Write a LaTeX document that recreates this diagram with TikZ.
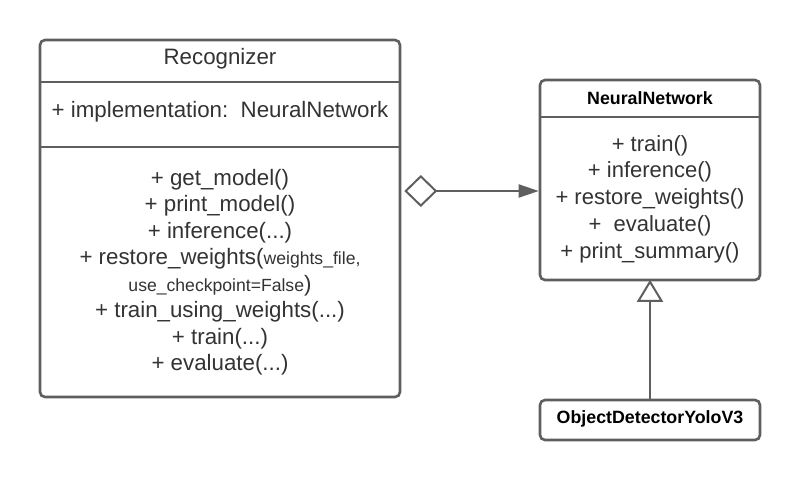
\documentclass[tikz,border=0pt]{standalone}
\usepackage{fontspec}
\setmainfont{Liberation Sans}
\usetikzlibrary{arrows.meta}
\definecolor{linegray}{HTML}{5F5F5F}
\definecolor{textgray}{HTML}{333333}
\begin{document}
\begin{tikzpicture}[x=1pt,y=-1pt,
  umlbox/.style={draw=linegray, line width=2.6pt, rounded corners=5pt, fill=white, inner sep=0pt},
  sepline/.style={draw=linegray, line width=2.6pt},
  conn/.style={draw=linegray, line width=2pt},
  bigtext/.style={text=textgray, font=\fontsize{22.3}{26.5}\selectfont, align=center, inner sep=0pt},
  midtext/.style={text=textgray, font=\fontsize{22}{26.75}\selectfont, align=center, inner sep=0pt},
  boldtext/.style={text=black, font=\bfseries\fontsize{17.8}{21}\selectfont, inner sep=0pt}
]
\useasboundingbox[fill=white] (0,0) rectangle (800,480);

% Recognizer
\node[umlbox, minimum width=360pt, minimum height=357pt] (rec) at (220,218.5) {};
\draw[sepline] (40,82) -- (400,82);
\draw[sepline] (40,147) -- (400,147);
\node[bigtext] (rectitle) at (220,59) {Recognizer};
\node[bigtext] (recattr) at (220,112) {+ implementation:\ \ NeuralNetwork};
\node[bigtext] (recmeth) at (220,272) {+ get\_model()\\
+ print\_model()\\
+ inference(...)\\
+ restore\_weights({\fontsize{17.6}{20}\selectfont weights\_file,}\\
{\fontsize{17.6}{20}\selectfont use\_checkpoint=False})\\
+ train\_using\_weights(...)\\
+ train(...)\\
+ evaluate(...)};

% NeuralNetwork
\node[umlbox, minimum width=220pt, minimum height=200pt] (nn) at (650,180) {};
\draw[sepline] (540,117) -- (760,117);
\node[boldtext] (nntitle) at (650,98) {NeuralNetwork};
\node[midtext] (nnmeth) at (650,199) {+ train()\\
+ inference()\\
+ restore\_weights()\\
+\ \ evaluate()\\
+ print\_summary()};

% ObjectDetectorYoloV3
\node[umlbox, minimum width=220pt, minimum height=40pt] (obj) at (650,420) {};
\node[boldtext] (objtitle) at (650,419) {ObjectDetectorYoloV3};

% connectors
\coordinate (aggstart) at ([xshift=3pt]rec.east |- 0,191);
\coordinate (aggend) at (nn.west |- 0,191);
\draw[conn, {Diamond[open, length=33pt, width=32pt, line width=2pt]}-{Triangle[length=20pt, width=13pt]}] (aggstart) -- (aggend);
\coordinate (inhend) at ([yshift=3pt]nn.south);
\draw[conn, -{Triangle[open, length=22pt, width=26pt, line width=2pt]}, shorten >=1.5pt] (obj.north) -- (inhend);
\end{tikzpicture}
\end{document}
